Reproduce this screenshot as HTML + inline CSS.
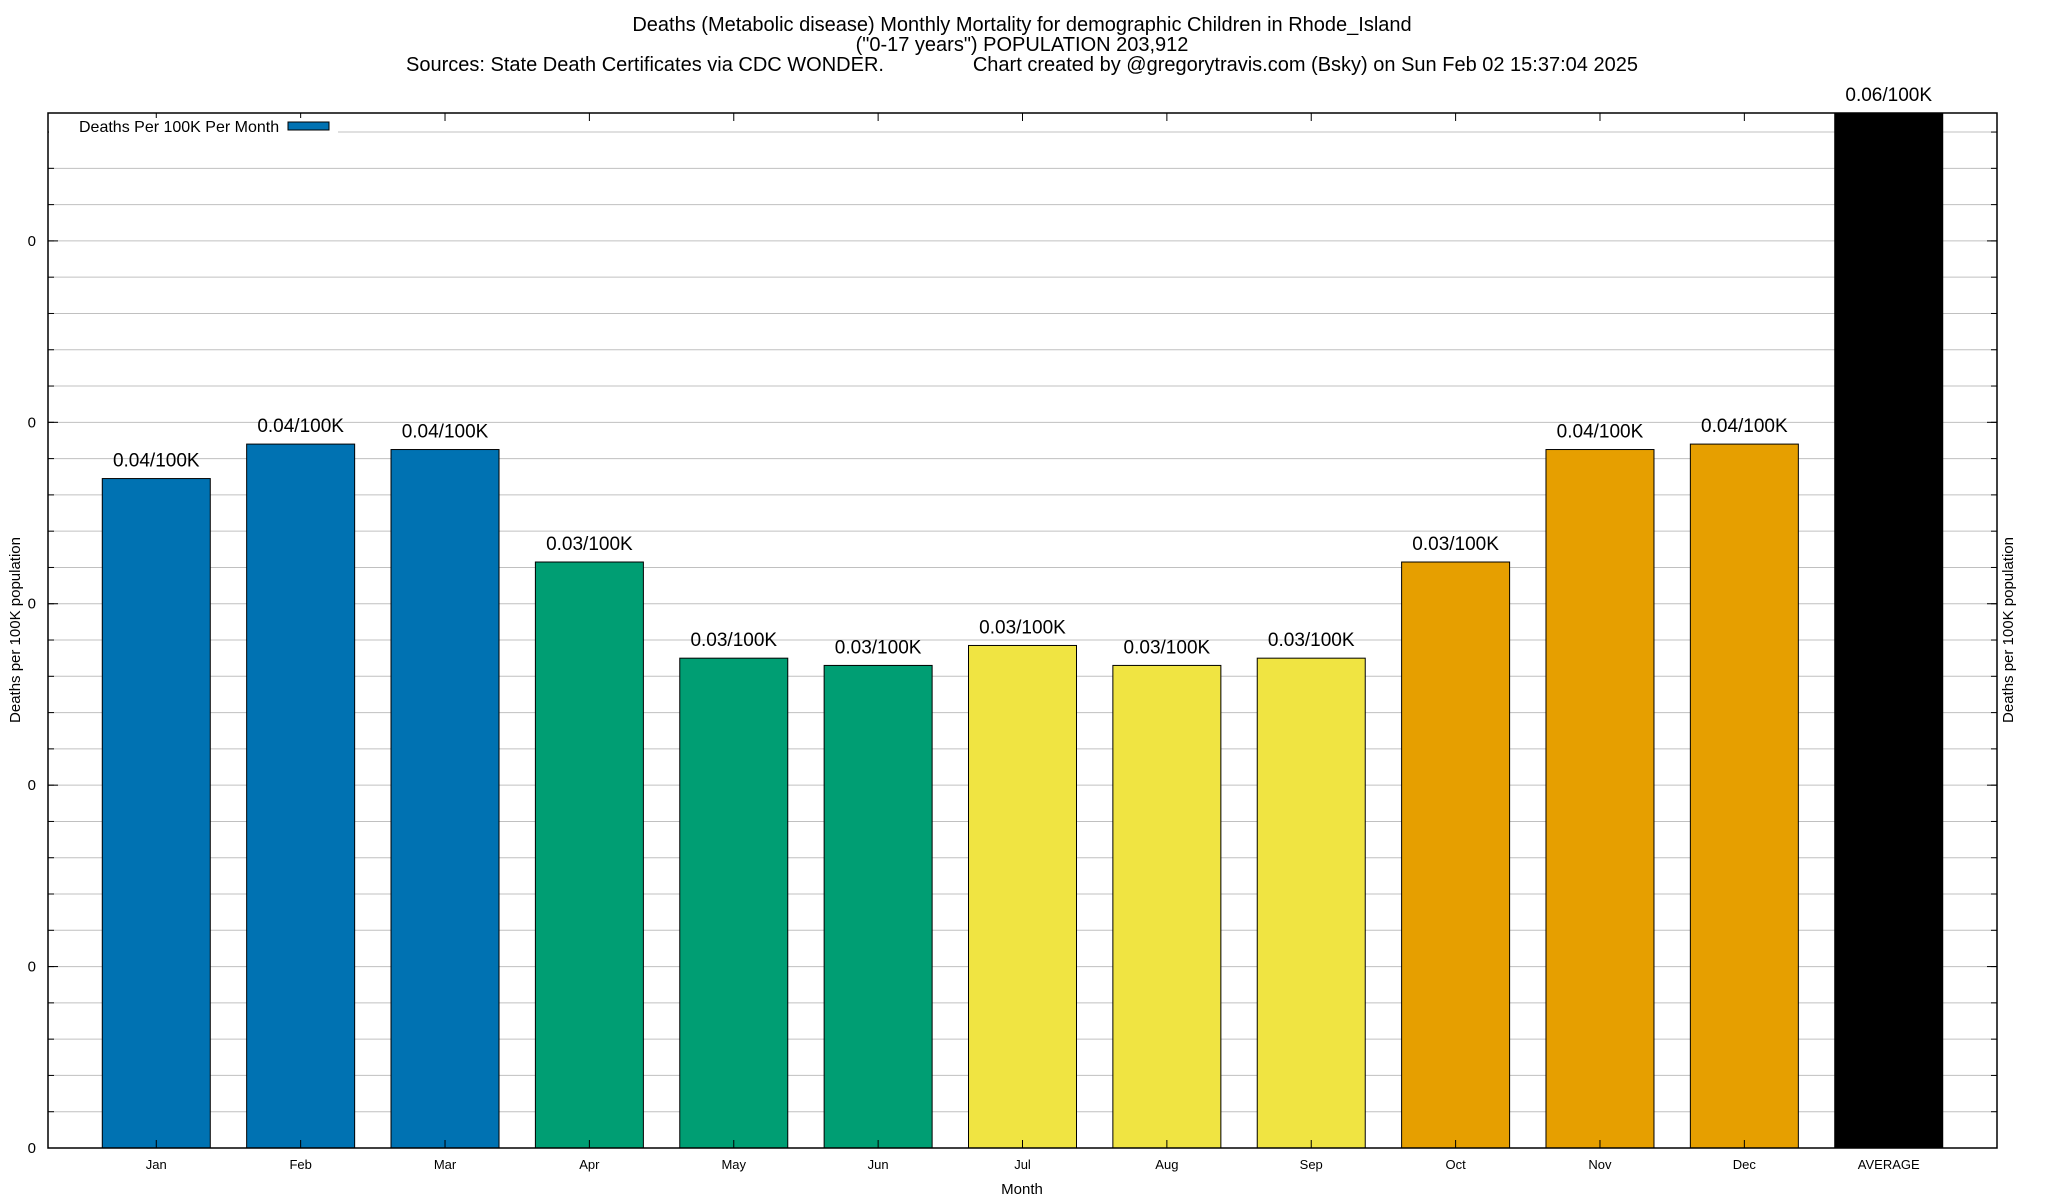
<!DOCTYPE html>
<html><head><meta charset="utf-8"><style>
html,body{margin:0;padding:0;background:#fff;}
svg{display:block;font-family:"Liberation Sans",sans-serif;}
</style></head><body>
<svg id="chart" width="2048" height="1200" viewBox="0 0 2048 1200" xmlns="http://www.w3.org/2000/svg">
<g font-size="20" text-anchor="middle" fill="#000">
<text x="1022" y="31">Deaths (Metabolic disease) Monthly Mortality for demographic Children in Rhode_Island</text>
<text x="1022" y="51">("0-17 years") POPULATION 203,912</text>
<text x="1022" y="71" xml:space="preserve">Sources: State Death Certificates via CDC WONDER.                Chart created by @gregorytravis.com (Bsky) on Sun Feb 02 15:37:04 2025</text>
</g>
<g id="grid"></g>
<g id="bars"></g>
<g id="labels"></g>
<g id="axes"></g>
<g>
<rect x="49" y="118" width="289" height="26" fill="#fff"/>
<text x="79" y="132" font-size="16">Deaths Per 100K Per Month</text>
<rect x="288" y="122" width="41" height="8" fill="#0072b2" stroke="#000" stroke-width="1"/>
</g>
<text x="1022" y="1194" font-size="15" text-anchor="middle">Month</text>
<text transform="translate(20,630) rotate(-90)" font-size="15" text-anchor="middle">Deaths per 100K population</text>
<text transform="translate(2013,630) rotate(-90)" font-size="15" text-anchor="middle">Deaths per 100K population</text>
</svg>
<script>
const categories = ["Jan","Feb","Mar","Apr","May","Jun","Jul","Aug","Sep","Oct","Nov","Dec","AVERAGE"];
const values = [0.0369,0.0388,0.0385,0.0323,0.0270,0.0266,0.0277,0.0266,0.0270,0.0323,0.0385,0.0388,0.06];
const valueLabels = ["0.04/100K","0.04/100K","0.04/100K","0.03/100K","0.03/100K","0.03/100K","0.03/100K","0.03/100K","0.03/100K","0.03/100K","0.04/100K","0.04/100K","0.06/100K"];
const barColors = ["#0072b2","#0072b2","#0072b2","#009e73","#009e73","#009e73","#f0e442","#f0e442","#f0e442","#e69f00","#e69f00","#e69f00","#000000"];
const yTicks = [0,0.01,0.02,0.03,0.04,0.05];
const yTickLabels = ["0","0","0","0","0","0"];

const NS="http://www.w3.org/2000/svg";
const L=48,R=1997,T=113,B=1148;
const yMax=0.05705, xMin=-0.75, xMax=12.75;
function xs(i){return L+(i-xMin)/(xMax-xMin)*(R-L);}
function ys(v){return B-v/yMax*(B-T);}
function mk(tag,attrs,parent){const e=document.createElementNS(NS,tag);for(const k in attrs)e.setAttribute(k,attrs[k]);parent.appendChild(e);return e;}
const grid=document.getElementById('grid'),bars=document.getElementById('bars'),labels=document.getElementById('labels'),axes=document.getElementById('axes');
for(let v=0.002;v<yMax;v+=0.002){
  const y=ys(v);
  const ln=mk('line',{x1:L,x2:R,y1:y,y2:y,stroke:'#c0c0c0','stroke-width':1},grid);
  
  
  mk('line',{x1:L,x2:L+6,y1:y,y2:y,stroke:'#000','stroke-width':1},axes);
  mk('line',{x1:R-6,x2:R,y1:y,y2:y,stroke:'#000','stroke-width':1},axes);
}
yTicks.forEach((v,i)=>{
  const y=ys(v);
  mk('line',{x1:L,x2:L+10,y1:y,y2:y,stroke:'#000','stroke-width':1},axes);
  mk('line',{x1:R-10,x2:R,y1:y,y2:y,stroke:'#000','stroke-width':1},axes);
  const t=mk('text',{x:36,y:y+5,'font-size':15,'text-anchor':'end'},axes);
  t.textContent=yTickLabels[i];
  
  
});
const bw=108;
categories.forEach((c,i)=>{
  const cx=xs(i);
  const top=Math.max(ys(values[i]),T);
  const r=mk('rect',{x:cx-bw/2,y:top,width:bw,height:B-top,fill:barColors[i],stroke:'#000','stroke-width':1},bars);
  
  
  const t=mk('text',{x:cx,y:top-12,'font-size':19,'text-anchor':'middle'},labels);
  t.textContent=valueLabels[i];
  
  
  const xl=mk('text',{x:cx,y:1169,'font-size':13,'text-anchor':'middle'},axes);
  xl.textContent=c;
  
  
  mk('line',{x1:cx,x2:cx,y1:T,y2:T+8,stroke:'#000','stroke-width':1},axes);
  mk('line',{x1:cx,x2:cx,y1:B,y2:B-8,stroke:'#000','stroke-width':1},axes);
});
const frame=mk('rect',{x:L,y:T,width:R-L,height:B-T,fill:'none',stroke:'#000','stroke-width':1.5},axes);


</script>
</body></html>
